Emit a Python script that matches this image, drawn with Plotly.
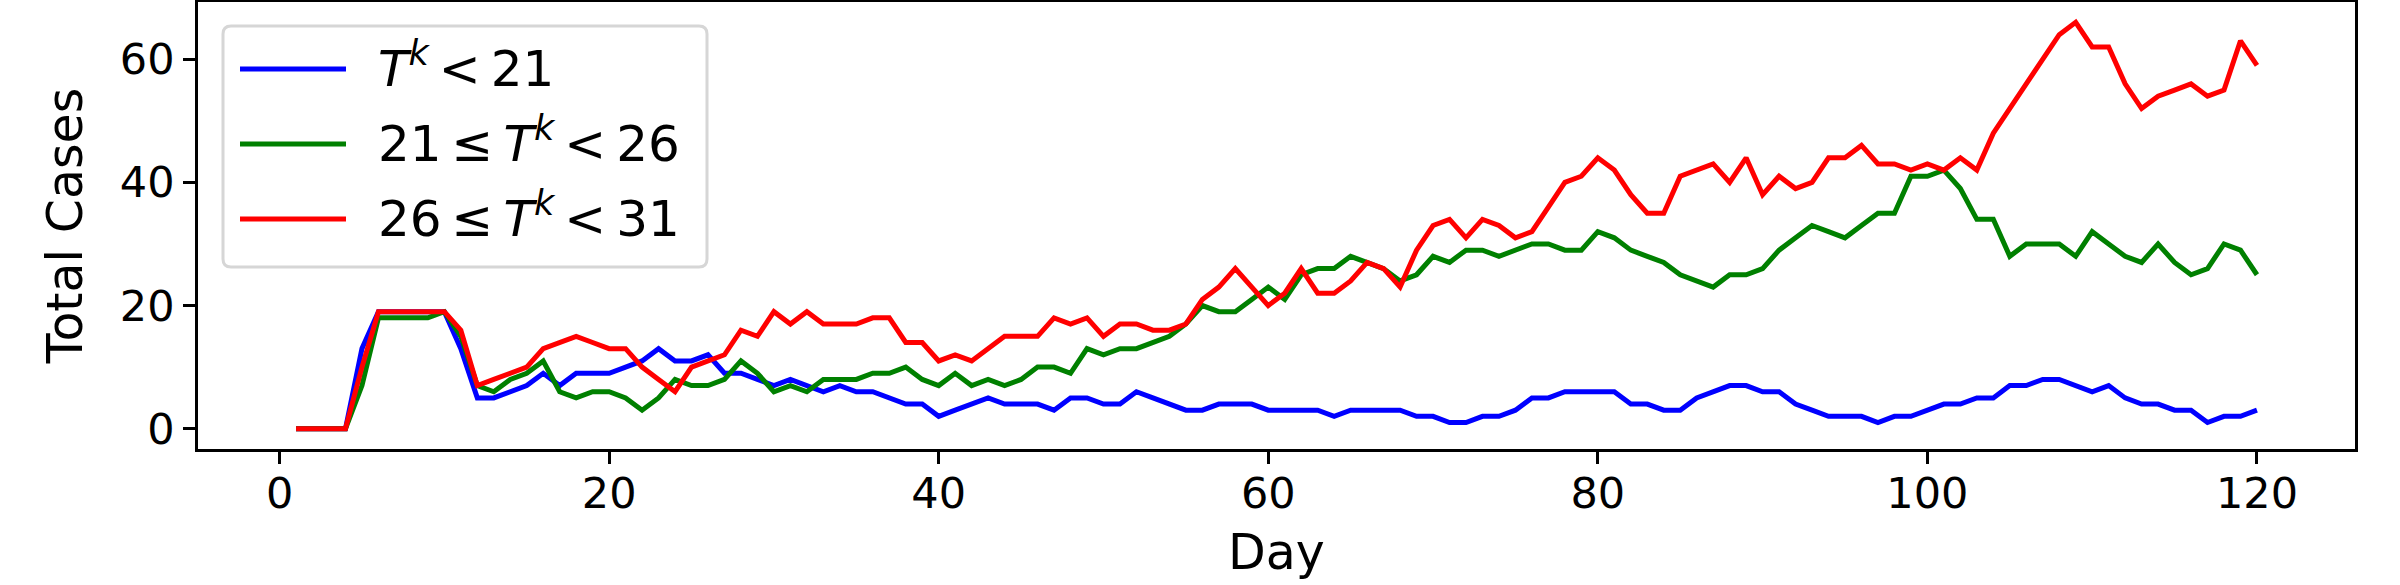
import plotly.graph_objects as go

days = list(range(1, 121))

cases_low = [0, 0, 0, 0, 13, 19, 19, 19, 19, 19,
             13, 5, 5, 6, 7, 9, 7, 9, 9, 9,
             10, 11, 13, 11, 11, 12, 9, 9, 8, 7,
             8, 7, 6, 7, 6, 6, 5, 4, 4, 2,
             3, 4, 5, 4, 4, 4, 3, 5, 5, 4,
             4, 6, 5, 4, 3, 3, 4, 4, 4, 3,
             3, 3, 3, 2, 3, 3, 3, 3, 2, 2,
             1, 1, 2, 2, 3, 5, 5, 6, 6, 6,
             6, 4, 4, 3, 3, 5, 6, 7, 7, 6,
             6, 4, 3, 2, 2, 2, 1, 2, 2, 3,
             4, 4, 5, 5, 7, 7, 8, 8, 7, 6,
             7, 5, 4, 4, 3, 3, 1, 2, 2, 3]

cases_mid = [0, 0, 0, 0, 7, 18, 18, 18, 18, 19,
             15, 7, 6, 8, 9, 11, 6, 5, 6, 6,
             5, 3, 5, 8, 7, 7, 8, 11, 9, 6,
             7, 6, 8, 8, 8, 9, 9, 10, 8, 7,
             9, 7, 8, 7, 8, 10, 10, 9, 13, 12,
             13, 13, 14, 15, 17, 20, 19, 19, 21, 23,
             21, 25, 26, 26, 28, 27, 26, 24, 25, 28,
             27, 29, 29, 28, 29, 30, 30, 29, 29, 32,
             31, 29, 28, 27, 25, 24, 23, 25, 25, 26,
             29, 31, 33, 32, 31, 33, 35, 35, 41, 41,
             42, 39, 34, 34, 28, 30, 30, 30, 28, 32,
             30, 28, 27, 30, 27, 25, 26, 30, 29, 25]

cases_high = [0, 0, 0, 0, 10, 19, 19, 19, 19, 19,
              16, 7, 8, 9, 10, 13, 14, 15, 14, 13,
              13, 10, 8, 6, 10, 11, 12, 16, 15, 19,
              17, 19, 17, 17, 17, 18, 18, 14, 14, 11,
              12, 11, 13, 15, 15, 15, 18, 17, 18, 15,
              17, 17, 16, 16, 17, 21, 23, 26, 23, 20,
              22, 26, 22, 22, 24, 27, 26, 23, 29, 33,
              34, 31, 34, 33, 31, 32, 36, 40, 41, 44,
              42, 38, 35, 35, 41, 42, 43, 40, 44, 38,
              41, 39, 40, 44, 44, 46, 43, 43, 42, 43,
              42, 44, 42, 48, 52, 56, 60, 64, 66, 62,
              62, 56, 52, 54, 55, 56, 54, 55, 63, 59]

SP = "\u2009"
series_names = [f"<i>T<sup>k</sup></i>{SP}<{SP}21",
                f"21{SP}≤{SP}<i>T<sup>k</sup></i>{SP}<{SP}26",
                f"26{SP}≤{SP}<i>T<sup>k</sup></i>{SP}<{SP}31"]
series_colors = ["#0000ff", "#008000", "#ff0000"]
series_values = [cases_low, cases_mid, cases_high]

x_ticks = [0, 20, 40, 60, 80, 100, 120]
y_ticks = [0, 20, 40, 60]

W, H = 2400, 585
L, R, T, B = 198, 2355, 2, 449
FONT = "DejaVu Sans"

def px_x(p):
    return (p - L) / (R - L)

def px_y(p):
    return (B - p) / (B - T)

fig = go.Figure()
for name, col, vals in zip(series_names, series_colors, series_values):
    fig.add_trace(go.Scatter(x=days, y=vals, mode="lines", name=name,
                             line=dict(color=col, width=5), showlegend=False))

axis_common = dict(showline=True, mirror=True, linecolor="black", linewidth=2.7,
                   ticks="outside", ticklen=12, tickwidth=2.7, tickcolor="black",
                   showgrid=False, zeroline=False, automargin=False,
                   tickfont=dict(family=FONT, size=43, color="black"))

fig.update_xaxes(range=[-4.95, 125.95], tickvals=x_ticks, ticklabelstandoff=-7,
                 title=dict(text="Day", font=dict(family=FONT, size=49, color="black"), standoff=18),
                 **axis_common)
fig.update_yaxes(range=[-3.3, 69.3], tickvals=y_ticks,
                 title=dict(text="Total Cases", font=dict(family=FONT, size=49, color="black"), standoff=22),
                 **axis_common)

# custom legend box (rounded)
x0, x1, y0, y1 = 223, 707, 26, 267
r = 8
path = (f"M {px_x(x0 + r)},{px_y(y0)} L {px_x(x1 - r)},{px_y(y0)} "
        f"Q {px_x(x1)},{px_y(y0)} {px_x(x1)},{px_y(y0 + r)} "
        f"L {px_x(x1)},{px_y(y1 - r)} Q {px_x(x1)},{px_y(y1)} {px_x(x1 - r)},{px_y(y1)} "
        f"L {px_x(x0 + r)},{px_y(y1)} Q {px_x(x0)},{px_y(y1)} {px_x(x0)},{px_y(y1 - r)} "
        f"L {px_x(x0)},{px_y(y0 + r)} Q {px_x(x0)},{px_y(y0)} {px_x(x0 + r)},{px_y(y0)} Z")
shapes = [dict(type="path", path=path, xref="paper", yref="paper",
               line=dict(color="#d6d6d6", width=3), fillcolor="rgba(255,255,255,0.8)", layer="above")]
annotations = []
rows = [69, 144, 219]
for name, col, ry in zip(series_names, series_colors, rows):
    shapes.append(dict(type="line", xref="paper", yref="paper",
                       x0=px_x(240), x1=px_x(346), y0=px_y(ry), y1=px_y(ry),
                       line=dict(color=col, width=5), layer="above"))
    annotations.append(dict(text=name, xref="paper", yref="paper",
                            x=px_x(376), y=px_y(ry - 4), xanchor="left", yanchor="middle",
                            showarrow=False, font=dict(family=FONT, size=50, color="black")))

fig.update_layout(width=W, height=H, autosize=False,
                  margin=dict(l=L, r=W - R, t=T, b=H - B, pad=0, autoexpand=False),
                  paper_bgcolor="white", plot_bgcolor="white",
                  shapes=shapes, annotations=annotations,
                  font=dict(family=FONT, color="black"))

fig.write_html("out.html", config={"displayModeBar": False},
               post_script="document.body.style.margin='0px';document.body.style.overflow='hidden';")
